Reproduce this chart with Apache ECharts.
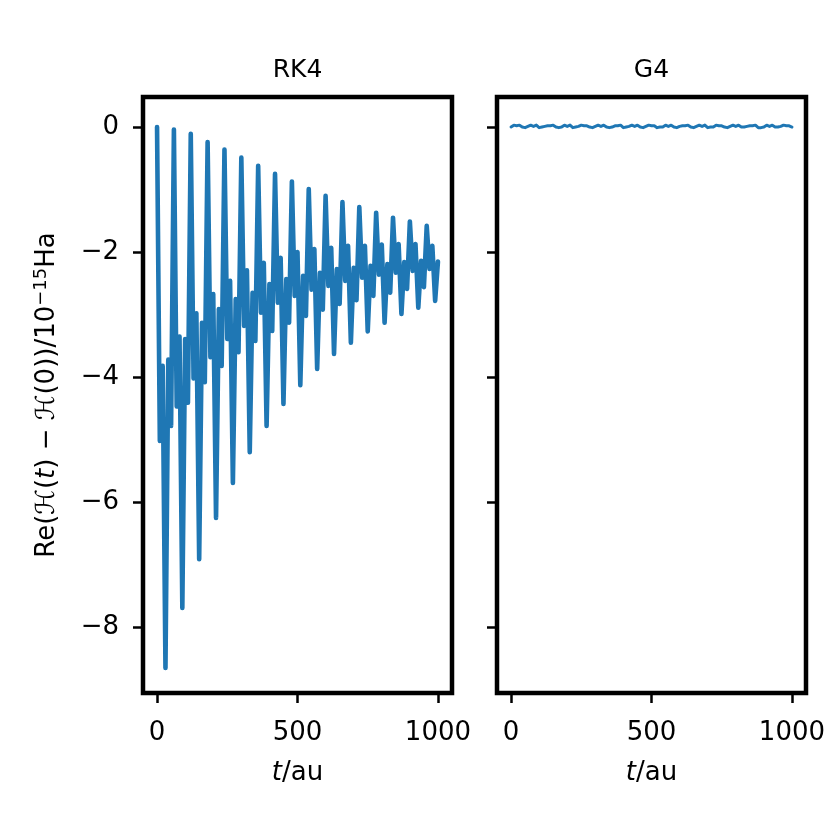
<!DOCTYPE html>
<html>
<head>
<meta charset="utf-8">
<script src="https://cdn.jsdelivr.net/npm/echarts@6/dist/echarts.min.js"></script>
<style>
  html, body { margin: 0; padding: 0; background: #fff; }
  #chart { width: 830px; height: 830px; }
</style>
</head>
<body>
<div id="chart"></div>
<script>
    // sample step of the time axis (au)
    var dt = 10;

    // Re(H(t) - H(0)) in 1e-15 Ha, one value every dt
    var rk4_values = [
        0.00, -5.02, -3.82, -8.65, -3.72, -4.78,
        -0.04, -4.47, -3.35, -7.69, -3.39, -4.41,
        -0.11, -4.02, -2.98, -6.91, -3.13, -4.08,
        -0.24, -3.68, -2.67, -6.25, -2.91, -3.82,
        -0.36, -3.39, -2.46, -5.69, -2.75, -3.60,
        -0.49, -3.18, -2.29, -5.20, -2.65, -3.42,
        -0.62, -2.97, -2.17, -4.78, -2.51, -3.26,
        -0.75, -2.81, -2.09, -4.43, -2.43, -3.13,
        -0.87, -2.70, -2.00, -4.13, -2.38, -3.02,
        -0.99, -2.60, -1.95, -3.87, -2.33, -2.92,
        -1.10, -2.54, -1.93, -3.63, -2.27, -2.83,
        -1.20, -2.46, -1.90, -3.45, -2.25, -2.77,
        -1.28, -2.41, -1.90, -3.27, -2.22, -2.70,
        -1.37, -2.36, -1.88, -3.13, -2.19, -2.65,
        -1.45, -2.33, -1.87, -2.99, -2.16, -2.59,
        -1.51, -2.30, -1.87, -2.89, -2.14, -2.56,
        -1.58, -2.27, -1.90, -2.78, -2.15
    ];

    var g4_values = [
        0.00, 0.03, 0.02, 0.03, 0.00, -0.01,
        0.01, 0.03, 0.01, 0.03, -0.01, 0.00,
        0.01, 0.02, 0.02, 0.03, 0.00, -0.01,
        0.00, 0.03, 0.01, 0.03, -0.01, 0.00,
        0.01, 0.03, 0.02, 0.02, 0.00, -0.01,
        0.01, 0.03, 0.01, 0.03, 0.00, -0.01,
        0.00, 0.02, 0.02, 0.03, -0.01, 0.00,
        0.01, 0.03, 0.01, 0.03, 0.00, -0.01,
        0.01, 0.03, 0.02, 0.02, -0.01, 0.00,
        0.00, 0.03, 0.01, 0.03, 0.00, -0.01,
        0.01, 0.02, 0.02, 0.03, 0.00, -0.01,
        0.01, 0.03, 0.01, 0.03, -0.01, 0.00,
        0.00, 0.03, 0.02, 0.02, 0.00, -0.01,
        0.01, 0.03, 0.01, 0.03, 0.00, 0.00,
        0.01, 0.02, 0.02, 0.03, -0.01, -0.01,
        0.00, 0.03, 0.01, 0.03, 0.00, 0.00,
        0.01, 0.03, 0.02, 0.02, 0.00
    ];

    var x_ticks = [0, 500, 1000];
    var y_ticks = [-8, -6, -4, -2, 0];
    var panel_titles = ['RK4', 'G4'];

    function to_pairs(values) {
        var out = [];
        for (var i = 0; i < values.length; i++) {
            out.push([i * dt, values[i]]);
        }
        return out;
    }

    function plain_label(v) {
        return String(v).replace('-', '\u2212');
    }

    var font = 'DejaVu Sans';
    var tick_size = 26;
    var grids = [
        {left: 143, top: 97, width: 309, height: 596},
        {left: 497, top: 97, width: 309, height: 596}
    ];

    var xAxes = [], yAxes = [], graphics = [];
    for (var g = 0; g < 2; g++) {
        grids[g].show = true;
        grids[g].borderColor = '#000';
        grids[g].borderWidth = 4.5;
        grids[g].backgroundColor = 'transparent';
        xAxes.push({
            type: 'value', gridIndex: g, min: -50, max: 1050, position: 'bottom',
            axisLine: {show: false, onZero: false},
            splitLine: {show: false},
            axisTick: {show: true, length: 10, customValues: x_ticks,
                lineStyle: {color: '#000', width: 2.5}},
            axisLabel: {show: true, customValues: x_ticks, margin: 27,
                color: '#000', fontFamily: font, fontSize: tick_size,
                formatter: plain_label}
        });
        yAxes.push({
            type: 'value', gridIndex: g, min: -9.05, max: 0.48, position: 'left',
            axisLine: {show: false, onZero: false},
            splitLine: {show: false},
            axisTick: {show: true, length: 10, customValues: y_ticks,
                lineStyle: {color: '#000', width: 2.5}},
            axisLabel: {show: g == 0, customValues: y_ticks, margin: 24,
                color: '#000', fontFamily: font, fontSize: tick_size,
                formatter: plain_label}
        });
        var cx = grids[g].left + grids[g].width / 2;
        graphics.push({
            type: 'text', x: cx, y: 70,
            style: {text: panel_titles[g], fill: '#000', font: '25px "DejaVu Sans"',
                textAlign: 'center', textVerticalAlign: 'middle'}
        });
        graphics.push({
            type: 'text', x: cx, y: 773,
            style: {
                text: '{i|t}{n|/au}',
                textAlign: 'center', textVerticalAlign: 'middle',
                rich: {
                    i: {fontFamily: font, fontStyle: 'italic', fontSize: tick_size, fill: '#000'},
                    n: {fontFamily: font, fontSize: tick_size, fill: '#000'}
                }
            }
        });
    }

    graphics.push({
        type: 'text', x: 47, y: 395, rotation: Math.PI / 2,
        style: {
            text: '{n|Re(}{c|\u210B}{n|(}{i|t}{n|) \u2212 }{c|\u210B}{n|(0))/10}{s|\u221215}{n|Ha}',
            textAlign: 'center', textVerticalAlign: 'middle',
            rich: {
                n: {fontFamily: font, fontSize: tick_size, fill: '#000', lineHeight: 30},
                c: {fontFamily: font, fontStyle: 'italic', fontSize: tick_size, fill: '#000', lineHeight: 30},
                i: {fontFamily: font, fontStyle: 'italic', fontSize: tick_size, fill: '#000', lineHeight: 30},
                s: {fontFamily: font, fontSize: 18, fill: '#000', verticalAlign: 'top', lineHeight: 30}
            }
        }
    });

    var myChart = echarts.init(document.getElementById('chart'), null, {renderer: 'canvas'});
    var option = {
        backgroundColor: '#fff',
        animation: false,
        grid: grids,
        xAxis: xAxes,
        yAxis: yAxes,
        graphic: graphics,
        series: [
            {
                name: 'RK4', type: 'line', xAxisIndex: 0, yAxisIndex: 0,
                data: to_pairs(rk4_values), showSymbol: false, symbol: 'none',
                lineStyle: {color: '#1f77b4', width: 4.6, join: 'round', cap: 'round'}
            },
            {
                name: 'G4', type: 'line', xAxisIndex: 1, yAxisIndex: 1,
                data: to_pairs(g4_values), showSymbol: false, symbol: 'none',
                lineStyle: {color: '#1f77b4', width: 3, join: 'round', cap: 'round'}
            }
        ]
    };
    myChart.setOption(option);
</script>
</body>
</html>
